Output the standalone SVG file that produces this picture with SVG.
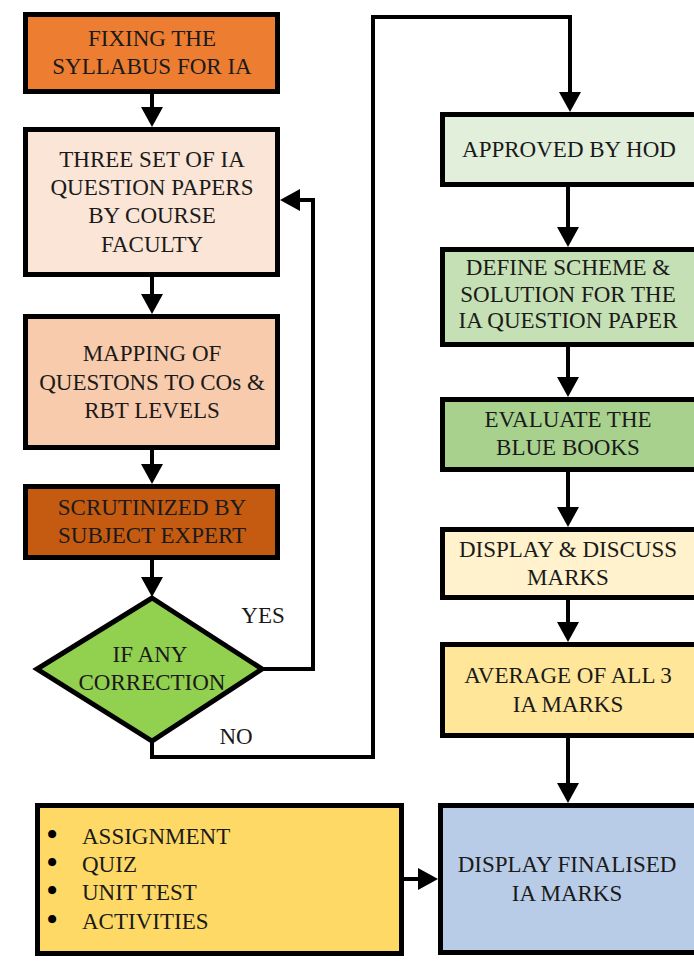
<svg xmlns="http://www.w3.org/2000/svg" width="694" height="972" viewBox="0 0 694 972">
<style>
.box{stroke:#000;stroke-width:5}
.t{font-family:"Liberation Serif","Times New Roman",serif;font-size:23px;fill:#1a1a1a;text-anchor:middle}
.l{font-family:"Liberation Serif","Times New Roman",serif;font-size:23px;fill:#1a1a1a}
.b{font-family:"DejaVu Sans",sans-serif;font-size:23px;font-weight:bold;fill:#000;text-anchor:middle}
.c{fill:none;stroke:#000;stroke-width:4;marker-end:url(#ah)}
</style>
<defs>
<marker id="ah" viewBox="0 0 20 22" refX="12" refY="11" markerWidth="20" markerHeight="22" markerUnits="userSpaceOnUse" orient="auto">
<path d="M0,0 L20,11 L0,22 z" fill="#000"/>
</marker>
</defs>
<rect width="694" height="972" fill="#fff"/>
<g id="connectors">
<path class="c" d="M152,94 V119"/>
<path class="c" d="M152,277 V306"/>
<path class="c" d="M152,450 V476"/>
<path class="c" d="M152,560 V589"/>
<path class="c" d="M263,669 H313 V200 H288"/>
<path class="c" d="M152,742 V757 H373 V17 H570 V104"/>
<path class="c" d="M568,187 V239"/>
<path class="c" d="M568,347 V389"/>
<path class="c" d="M568,472 V519"/>
<path class="c" d="M568,600 V634"/>
<path class="c" d="M568,738 V795"/>
<path class="c" d="M404,879 H430"/>
<text class="t" x="263" y="623">YES</text>
<text class="t" x="236" y="744">NO</text>
</g>
<g id="fixing">
<rect class="box" x="25.5" y="14.5" width="252" height="77" fill="#ED7D31"/>
<text class="t" x="152" y="46">FIXING THE</text>
<text class="t" x="152" y="74">SYLLABUS FOR IA</text>
</g>
<g id="three-set">
<rect class="box" x="25.5" y="129.5" width="252" height="145" fill="#FBE5D6"/>
<text class="t" x="152" y="167">THREE SET OF IA</text>
<text class="t" x="152" y="195">QUESTION PAPERS</text>
<text class="t" x="152" y="223">BY COURSE</text>
<text class="t" x="152" y="252">FACULTY</text>
</g>
<g id="mapping">
<rect class="box" x="25.5" y="316.5" width="252" height="131" fill="#F8CBAD"/>
<text class="t" x="152" y="361">MAPPING OF</text>
<text class="t" x="152" y="390">QUESTONS TO COs &amp;</text>
<text class="t" x="152" y="418">RBT LEVELS</text>
</g>
<g id="scrutinized">
<rect class="box" x="25.5" y="486.5" width="252" height="71" fill="#C55A11"/>
<text class="t" x="152" y="515">SCRUTINIZED BY</text>
<text class="t" x="152" y="543">SUBJECT EXPERT</text>
</g>
<g id="decision">
<polygon class="box" points="152,598 262,669 152,741 37,669" fill="#92D050" stroke-linejoin="miter"/>
<text class="t" x="150" y="662">IF ANY</text>
<text class="t" x="152" y="690">CORRECTION</text>
</g>
<g id="approved">
<rect class="box" x="442.5" y="114.5" width="256" height="70" fill="#E2EFDA"/>
<text class="t" x="569" y="157">APPROVED BY HOD</text>
</g>
<g id="define">
<rect class="box" x="442.5" y="249.5" width="256" height="95" fill="#C5E0B4"/>
<text class="t" x="568" y="275">DEFINE SCHEME &amp;</text>
<text class="t" x="568" y="302">SOLUTION FOR THE</text>
<text class="t" x="568" y="328">IA QUESTION PAPER</text>
</g>
<g id="evaluate">
<rect class="box" x="442.5" y="399.5" width="256" height="70" fill="#A9D18E"/>
<text class="t" x="568" y="427">EVALUATE THE</text>
<text class="t" x="568" y="455">BLUE BOOKS</text>
</g>
<g id="display-discuss">
<rect class="box" x="442.5" y="529.5" width="256" height="68" fill="#FFF2CC"/>
<text class="t" x="568" y="557">DISPLAY &amp; DISCUSS</text>
<text class="t" x="568" y="585">MARKS</text>
</g>
<g id="average">
<rect class="box" x="442.5" y="644.5" width="256" height="91" fill="#FFE699"/>
<text class="t" x="568" y="683">AVERAGE OF ALL 3</text>
<text class="t" x="568" y="712">IA MARKS</text>
</g>
<g id="display-final">
<rect class="box" x="440.5" y="805.5" width="258" height="147" fill="#B8CCE8"/>
<text class="t" x="567" y="872">DISPLAY FINALISED</text>
<text class="t" x="567" y="901">IA MARKS</text>
</g>
<g id="activities">
<rect class="box" x="37.5" y="805.5" width="364" height="148" fill="#FFD966"/>
<text class="b" x="52" y="843">•</text>
<text class="l" x="82" y="844">ASSIGNMENT</text>
<text class="b" x="52" y="871">•</text>
<text class="l" x="82" y="872">QUIZ</text>
<text class="b" x="52" y="899">•</text>
<text class="l" x="82" y="900">UNIT TEST</text>
<text class="b" x="52" y="928">•</text>
<text class="l" x="82" y="929">ACTIVITIES</text>
</g>
</svg>
